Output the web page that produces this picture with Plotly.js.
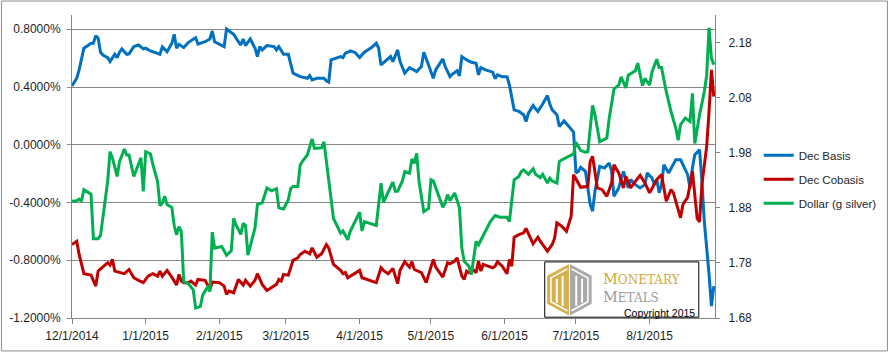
<!DOCTYPE html>
<html><head><meta charset="utf-8">
<script src="https://cdn.plot.ly/plotly-3.0.1.min.js"></script>
<style>html,body{margin:0;padding:0;background:#fff}#chart{width:894px;height:353px}</style>
</head><body><div id="chart"></div>
<script>
// ---- Data ----
const basisDates = ['2014-12-01','2014-12-03','2014-12-04','2014-12-06','2014-12-08','2014-12-09','2014-12-10','2014-12-11','2014-12-12','2014-12-13',
'2014-12-14','2014-12-16','2014-12-17','2014-12-19','2014-12-20','2014-12-21','2014-12-22','2014-12-24','2014-12-25','2014-12-27',
'2014-12-29','2014-12-31','2015-01-01','2015-01-03','2015-01-07','2015-01-08','2015-01-10','2015-01-12','2015-01-13','2015-01-14',
'2015-01-15','2015-01-17','2015-01-19','2015-01-22','2015-01-23','2015-01-25','2015-01-26','2015-01-28','2015-01-29','2015-01-30',
'2015-02-03','2015-02-04','2015-02-07','2015-02-09','2015-02-10','2015-02-11','2015-02-12','2015-02-14','2015-02-16','2015-02-17',
'2015-02-18','2015-02-19','2015-02-21','2015-02-24','2015-02-25','2015-02-26','2015-02-28','2015-03-02','2015-03-04','2015-03-07',
'2015-03-10','2015-03-11','2015-03-12','2015-03-14','2015-03-17','2015-03-18','2015-03-19','2015-03-20','2015-03-23','2015-03-24',
'2015-03-25','2015-03-26','2015-03-27','2015-03-28','2015-03-30','2015-04-01','2015-04-03','2015-04-06','2015-04-08','2015-04-09',
'2015-04-10','2015-04-12','2015-04-14','2015-04-15','2015-04-17','2015-04-18','2015-04-20','2015-04-22','2015-04-25','2015-04-27',
'2015-04-28','2015-04-30','2015-05-02','2015-05-03','2015-05-06','2015-05-07','2015-05-09','2015-05-10','2015-05-12','2015-05-13',
'2015-05-14','2015-05-16','2015-05-18','2015-05-20','2015-05-21','2015-05-22','2015-05-24','2015-05-27','2015-05-28','2015-05-29',
'2015-05-31','2015-06-02','2015-06-03','2015-06-05','2015-06-07','2015-06-09','2015-06-10','2015-06-11','2015-06-13','2015-06-14',
'2015-06-15','2015-06-17','2015-06-19','2015-06-20','2015-06-21','2015-06-23','2015-06-24','2015-06-26','2015-06-28','2015-06-30',
'2015-07-01','2015-07-02','2015-07-03','2015-07-05','2015-07-06','2015-07-07','2015-07-08','2015-07-09','2015-07-11','2015-07-13',
'2015-07-15','2015-07-16','2015-07-17','2015-07-19','2015-07-21','2015-07-23','2015-07-24','2015-07-26','2015-07-28','2015-07-30',
'2015-07-31','2015-08-02','2015-08-03','2015-08-04','2015-08-05','2015-08-06','2015-08-07','2015-08-09','2015-08-12','2015-08-14',
'2015-08-15','2015-08-17','2015-08-18','2015-08-19','2015-08-20','2015-08-22','2015-08-23','2015-08-24','2015-08-26','2015-08-27',
'2015-08-28'];
const basisValues = [0.408,0.461,0.519,0.669,0.691,0.703,0.703,0.756,0.738,0.641,
0.622,0.604,0.576,0.627,0.604,0.641,0.664,0.627,0.630,0.680,
0.691,0.664,0.669,0.650,0.627,0.678,0.645,0.703,0.765,0.669,
0.696,0.673,0.710,0.742,0.698,0.710,0.714,0.733,0.788,0.714,
0.680,0.802,0.765,0.714,0.691,0.733,0.687,0.733,0.669,0.611,
0.680,0.657,0.687,0.680,0.657,0.680,0.627,0.627,0.496,0.472,
0.461,0.479,0.450,0.461,0.461,0.443,0.434,0.588,0.604,0.611,
0.604,0.634,0.641,0.650,0.641,0.604,0.641,0.673,0.703,0.669,
0.553,0.581,0.611,0.576,0.657,0.576,0.496,0.535,0.507,0.542,
0.641,0.553,0.461,0.519,0.595,0.542,0.472,0.489,0.512,0.477,
0.611,0.588,0.572,0.565,0.484,0.535,0.519,0.503,0.457,0.484,
0.472,0.472,0.415,0.242,0.231,0.208,0.161,0.219,0.272,0.249,
0.231,0.282,0.341,0.282,0.242,0.208,0.127,0.166,0.127,0.088,
-0.195,-0.184,-0.156,-0.184,-0.299,-0.414,-0.460,-0.322,-0.150,-0.161,
-0.126,-0.184,-0.357,-0.299,-0.184,-0.299,-0.241,-0.276,-0.299,-0.276,
-0.195,-0.230,-0.276,-0.241,-0.333,-0.276,-0.138,-0.195,-0.103,-0.103,
-0.138,-0.207,-0.299,-0.161,-0.069,-0.034,-0.253,-0.530,-0.898,-1.117,
-0.979];

const cobasisDates = ['2014-12-01','2014-12-03','2014-12-04','2014-12-06','2014-12-09','2014-12-10','2014-12-11','2014-12-12','2014-12-16','2014-12-17',
'2014-12-18','2014-12-19','2014-12-21','2014-12-23','2014-12-25','2014-12-27','2014-12-29','2014-12-31','2015-01-02','2015-01-04',
'2015-01-06','2015-01-07','2015-01-08','2015-01-10','2015-01-12','2015-01-14','2015-01-15','2015-01-16','2015-01-17','2015-01-19',
'2015-01-20','2015-01-22','2015-01-23','2015-01-25','2015-01-26','2015-01-28','2015-01-29','2015-02-01','2015-02-03','2015-02-04',
'2015-02-05','2015-02-07','2015-02-09','2015-02-11','2015-02-12','2015-02-14','2015-02-16','2015-02-17','2015-02-19','2015-02-21',
'2015-02-23','2015-02-25','2015-02-26','2015-02-27','2015-02-28','2015-03-02','2015-03-04','2015-03-06','2015-03-07','2015-03-09',
'2015-03-11','2015-03-12','2015-03-14','2015-03-16','2015-03-18','2015-03-19','2015-03-21','2015-03-23','2015-03-24','2015-03-25',
'2015-03-26','2015-03-27','2015-03-30','2015-04-01','2015-04-02','2015-04-05','2015-04-08','2015-04-10','2015-04-11','2015-04-13',
'2015-04-15','2015-04-17','2015-04-18','2015-04-20','2015-04-22','2015-04-23','2015-04-24','2015-04-27','2015-04-29','2015-05-02',
'2015-05-03','2015-05-06','2015-05-08','2015-05-09','2015-05-11','2015-05-12','2015-05-14','2015-05-15','2015-05-16','2015-05-17',
'2015-05-19','2015-05-20','2015-05-21','2015-05-22','2015-05-23','2015-05-25','2015-05-27','2015-05-28','2015-05-29','2015-05-31',
'2015-06-02','2015-06-03','2015-06-04','2015-06-05','2015-06-07','2015-06-09','2015-06-10','2015-06-13','2015-06-15','2015-06-16',
'2015-06-19','2015-06-21','2015-06-22','2015-06-23','2015-06-25','2015-06-27','2015-06-28','2015-06-29','2015-06-30','2015-07-02',
'2015-07-03','2015-07-06','2015-07-07','2015-07-08','2015-07-09','2015-07-10','2015-07-12','2015-07-14','2015-07-16','2015-07-17',
'2015-07-19','2015-07-21','2015-07-22','2015-07-24','2015-07-26','2015-07-28','2015-07-30','2015-08-01','2015-08-04','2015-08-06',
'2015-08-08','2015-08-10','2015-08-11','2015-08-13','2015-08-14','2015-08-15','2015-08-17','2015-08-18','2015-08-19','2015-08-21',
'2015-08-22','2015-08-23','2015-08-25','2015-08-26','2015-08-27','2015-08-28'];
const cobasisValues = [-0.691,-0.668,-0.760,-0.893,-0.903,-0.944,-0.979,-0.875,-0.817,-0.834,
-0.794,-0.875,-0.886,-0.893,-0.864,-0.921,-0.939,-0.955,-0.910,-0.893,
-0.910,-0.875,-0.910,-0.870,-0.917,-0.972,-0.898,-0.944,-0.955,-0.955,
-0.944,-0.972,-0.933,-0.939,-0.939,-1.002,-0.951,-0.955,-0.979,-1.036,
-1.013,-1.025,-0.933,-0.972,-0.939,-0.979,-0.939,-0.893,-0.967,-1.009,
-0.990,-0.967,-0.933,-0.944,-0.898,-0.903,-0.801,-0.783,-0.760,-0.737,
-0.755,-0.714,-0.779,-0.755,-0.691,-0.714,-0.829,-0.857,-0.870,-0.893,
-0.885,-0.921,-0.893,-0.870,-0.921,-0.939,-0.955,-0.852,-0.870,-0.893,
-0.857,-0.962,-0.870,-0.810,-0.848,-0.810,-0.864,-0.886,-0.955,-0.794,
-0.848,-0.917,-0.817,-0.824,-0.806,-0.783,-0.910,-0.933,-0.875,-0.886,
-0.870,-0.886,-0.806,-0.875,-0.829,-0.841,-0.852,-0.841,-0.810,-0.841,
-0.893,-0.794,-0.841,-0.640,-0.622,-0.610,-0.580,-0.686,-0.640,-0.668,
-0.737,-0.691,-0.649,-0.541,-0.564,-0.599,-0.541,-0.495,-0.207,-0.264,
-0.295,-0.288,-0.115,-0.080,-0.184,-0.299,-0.311,-0.357,-0.264,-0.138,
-0.195,-0.299,-0.218,-0.299,-0.253,-0.212,-0.264,-0.333,-0.241,-0.207,
-0.391,-0.311,-0.333,-0.437,-0.506,-0.414,-0.364,-0.276,-0.184,-0.511,
-0.534,-0.276,-0.011,0.231,0.519,0.334];

const dollarDates = ['2014-12-01','2014-12-03','2014-12-04','2014-12-05','2014-12-06','2014-12-09','2014-12-10','2014-12-12','2014-12-13','2014-12-16',
'2014-12-17','2014-12-18','2014-12-20','2014-12-21','2014-12-23','2014-12-24','2014-12-25','2014-12-27','2014-12-30','2014-12-31',
'2015-01-01','2015-01-03','2015-01-04','2015-01-06','2015-01-07','2015-01-08','2015-01-09','2015-01-10','2015-01-12','2015-01-13',
'2015-01-14','2015-01-15','2015-01-16','2015-01-17','2015-01-19','2015-01-21','2015-01-22','2015-01-24','2015-01-25','2015-01-27',
'2015-01-28','2015-01-29','2015-01-30','2015-02-02','2015-02-04','2015-02-06','2015-02-07','2015-02-08','2015-02-10','2015-02-11',
'2015-02-12','2015-02-13','2015-02-16','2015-02-17','2015-02-19','2015-02-21','2015-02-23','2015-02-25','2015-02-26','2015-02-28',
'2015-03-02','2015-03-03','2015-03-04','2015-03-06','2015-03-07','2015-03-08','2015-03-10','2015-03-12','2015-03-13','2015-03-16',
'2015-03-17','2015-03-19','2015-03-21','2015-03-23','2015-03-24','2015-03-25','2015-03-27','2015-03-28','2015-04-01','2015-04-02',
'2015-04-03','2015-04-08','2015-04-10','2015-04-11','2015-04-13','2015-04-15','2015-04-16','2015-04-17','2015-04-19','2015-04-20',
'2015-04-22','2015-04-23','2015-04-24','2015-04-25','2015-04-26','2015-04-28','2015-04-30','2015-05-01','2015-05-02','2015-05-06',
'2015-05-07','2015-05-08','2015-05-09','2015-05-11','2015-05-13','2015-05-14','2015-05-15','2015-05-17','2015-05-18','2015-05-20',
'2015-05-21','2015-05-24','2015-05-26','2015-05-28','2015-05-30','2015-06-02','2015-06-03','2015-06-05','2015-06-07','2015-06-08',
'2015-06-09','2015-06-11','2015-06-13','2015-06-14','2015-06-16','2015-06-17','2015-06-19','2015-06-20','2015-06-21','2015-06-23',
'2015-06-24','2015-06-25','2015-06-27','2015-06-29','2015-06-30','2015-07-01','2015-07-03','2015-07-05','2015-07-06','2015-07-08',
'2015-07-09','2015-07-11','2015-07-14','2015-07-15','2015-07-17','2015-07-19','2015-07-20','2015-07-22','2015-07-23','2015-07-26',
'2015-07-27','2015-07-29','2015-07-30','2015-08-01','2015-08-02','2015-08-04','2015-08-05','2015-08-06','2015-08-08','2015-08-10',
'2015-08-12','2015-08-13','2015-08-14','2015-08-16','2015-08-18','2015-08-19','2015-08-20','2015-08-22','2015-08-24','2015-08-25',
'2015-08-26','2015-08-27','2015-08-28'];
const dollarValues = [1.892,1.893,1.896,1.892,1.913,1.905,1.824,1.824,1.830,1.928,
1.982,1.971,1.937,1.964,1.987,1.976,1.976,1.937,1.971,1.910,
1.982,1.978,1.959,1.928,1.884,1.889,1.901,1.886,1.881,1.848,
1.831,1.846,1.837,1.746,1.742,1.731,1.698,1.701,1.722,1.736,
1.728,1.836,1.807,1.810,1.794,1.802,1.861,1.849,1.832,1.852,
1.848,1.794,1.844,1.886,1.889,1.916,1.911,1.915,1.880,1.878,
1.895,1.915,1.919,1.919,1.958,1.965,1.976,2.005,1.988,1.989,
2.000,1.928,1.861,1.843,1.834,1.838,1.822,1.837,1.872,1.838,
1.855,1.848,1.925,1.890,1.910,1.927,1.910,1.910,1.929,1.946,
1.943,1.969,1.961,1.979,1.928,1.873,1.879,1.931,1.929,1.881,
1.889,1.904,1.893,1.907,1.880,1.807,1.783,1.774,1.759,1.819,
1.813,1.837,1.855,1.866,1.863,1.863,1.855,1.931,1.937,1.946,
1.949,1.941,1.951,1.941,1.935,1.941,1.925,1.934,1.929,1.925,
1.964,1.967,1.971,1.975,1.978,1.999,1.984,1.981,1.982,2.066,
2.049,2.000,2.007,2.043,2.096,2.103,2.118,2.098,2.121,2.129,
2.143,2.102,2.115,2.103,2.127,2.150,2.135,2.135,2.091,2.055,
2.025,2.003,2.031,2.043,2.037,2.088,1.997,2.049,2.091,2.121,
2.207,2.152,2.140];

const seriesNames = ['Dec Basis','Dec Cobasis','Dollar (g silver)'];
const xTickDates = ['2014-12-01','2015-01-01','2015-02-01','2015-03-01','2015-04-01','2015-05-01','2015-06-01','2015-07-01','2015-08-01'];
const xTickLabels = ['12/1/2014','1/1/2015','2/1/2015','3/1/2015','4/1/2015','5/1/2015','6/1/2015','7/1/2015','8/1/2015'];
const leftTickValues = [-1.2,-0.8,-0.4,0,0.4,0.8];
const leftTickLabels = ['-1.2000%','-0.8000%','-0.4000%','0.0000%','0.4000%','0.8000%'];
const rightTickValues = [1.68,1.78,1.88,1.98,2.08,2.18];
const rightTickLabels = ['1.68','1.78','1.88','1.98','2.08','2.18'];

// ---- Logo (decoration) ----
const logoSvg = "<svg xmlns='http://www.w3.org/2000/svg' viewBox='0 0 46 52' width='46' height='52'>" +
  "<polygon points='23,0 0,12 0,40 23,52' fill='#d6b04a'/>" +
  "<polygon points='23,0 46,12 46,40 23,52' fill='#a9a9a9'/>" +
  "<polyline points='21,5 4,14 4,38 21,47' fill='none' stroke='#fff' stroke-width='1.6'/>" +
  "<polyline points='25,5 42,14 42,38 25,47' fill='none' stroke='#fff' stroke-width='1.6'/>" +
  "<rect x='9' y='15' width='2' height='24' fill='#fff'/>" +
  "<rect x='15' y='12' width='2' height='30' fill='#fff'/>" +
  "<rect x='29' y='12' width='2' height='30' fill='#fff'/>" +
  "<rect x='35' y='15' width='2' height='24' fill='#fff'/>" +
  "<rect x='22.5' y='0' width='1' height='52' fill='#fff'/>" +
  "</svg>";
const gold = '#d2a93a', silver = '#9b9b9b';
const logoText = '<span style="font-size:14.5px">M</span><span style="font-size:12px">ONETARY</span><br>' +
  '<span style="font-size:14.5px;color:' + silver + '">M</span><span style="font-size:12px;color:' + silver + '">ETALS</span>';

const axisGray = '#868686';
const txt = '#1e1e1e';
const tickFont = {family: 'Liberation Sans, Arial, sans-serif', size: 12, color: txt};

const traces = [
  {x: basisDates, y: basisValues, name: seriesNames[0], type: 'scatter', mode: 'lines',
   line: {color: '#0070C0', width: 3}, legendgroup: 'a', yaxis: 'y'},
  {x: cobasisDates, y: cobasisValues, name: seriesNames[1], type: 'scatter', mode: 'lines',
   line: {color: '#C00000', width: 3}, legendgroup: 'b', yaxis: 'y'},
  {x: dollarDates, y: dollarValues, name: seriesNames[2], type: 'scatter', mode: 'lines',
   line: {color: '#00B050', width: 3}, legendgroup: 'c', yaxis: 'y2'}
];

const layout = {
  width: 894, height: 353,
  margin: {l: 72, r: 175, t: 15, b: 35},
  paper_bgcolor: '#ffffff', plot_bgcolor: '#ffffff',
  font: tickFont,
  showlegend: true,
  legend: {x: 1.068, xanchor: 'left', y: 0.585, yanchor: 'top', font: {family: 'Liberation Sans, Arial, sans-serif', size: 11.5, color: txt},
           tracegroupgap: 5, itemwidth: 30, bgcolor: 'rgba(0,0,0,0)', borderwidth: 0},
  xaxis: {type: 'date', range: ['2014-12-01', '2015-08-28 12:00'], tickmode: 'array', tickvals: xTickDates, ticktext: xTickLabels,
          showgrid: false, zeroline: false, showline: true, linecolor: axisGray, linewidth: 1,
          ticks: 'outside', ticklen: 5, tickcolor: axisGray, tickfont: tickFont, ticklabelstandoff: 2},
  yaxis: {range: [-1.2, 0.899], tickmode: 'array', tickvals: leftTickValues, ticktext: leftTickLabels,
          showgrid: true, gridcolor: axisGray, gridwidth: 1, zeroline: false, showline: true, linecolor: axisGray,
          ticks: 'outside', ticklen: 4, tickcolor: axisGray, tickfont: tickFont, ticklabelstandoff: 4},
  yaxis2: {range: [1.68, 2.2303], overlaying: 'y', side: 'right', tickmode: 'array', tickvals: rightTickValues, ticktext: rightTickLabels,
           showgrid: false, zeroline: false, showline: true, linecolor: axisGray,
           ticks: 'outside', ticklen: 4, tickcolor: axisGray, tickfont: tickFont, ticklabelstandoff: 6},
  shapes: [
    {type: 'rect', xref: 'paper', yref: 'paper', x0: -0.1097, x1: 1.2682, y0: -0.1087, y1: 1.0461,
     line: {color: '#8c8c8c', width: 1}, fillcolor: 'rgba(0,0,0,0)', layer: 'above'},
    {type: 'rect', xref: 'paper', yref: 'paper', x0: 0.7352, x1: 0.9748, y0: 0.0026, y1: 0.1852,
     line: {color: '#000000', width: 1}, fillcolor: '#ffffff', layer: 'below'}
  ],
  images: [
    {source: 'data:image/svg+xml;charset=utf-8,' + encodeURIComponent(logoSvg), xref: 'paper', yref: 'paper',
     x: 0.7388, y: 0.1786, sizex: 0.0696, sizey: 0.1713, xanchor: 'left', yanchor: 'top', sizing: 'stretch', layer: 'above', opacity: 1}
  ],
  annotations: [
    {xref: 'paper', yref: 'paper', x: 0.8249, y: 0.1005, xanchor: 'left', yanchor: 'middle', align: 'left', showarrow: false, borderpad: 0,
     text: logoText, font: {family: 'DejaVu Serif, serif', size: 13.5, color: gold}},
    {xref: 'paper', yref: 'paper', x: 0.9705, y: 0.018, xanchor: 'right', yanchor: 'middle', showarrow: false, borderpad: 0,
     text: 'Copyright 2015', font: {family: 'Liberation Sans, Arial, sans-serif', size: 10.5, color: '#000000'}}
  ]
};

Plotly.newPlot('chart', traces, layout, {staticPlot: true, displayModeBar: false});
</script></body></html>
